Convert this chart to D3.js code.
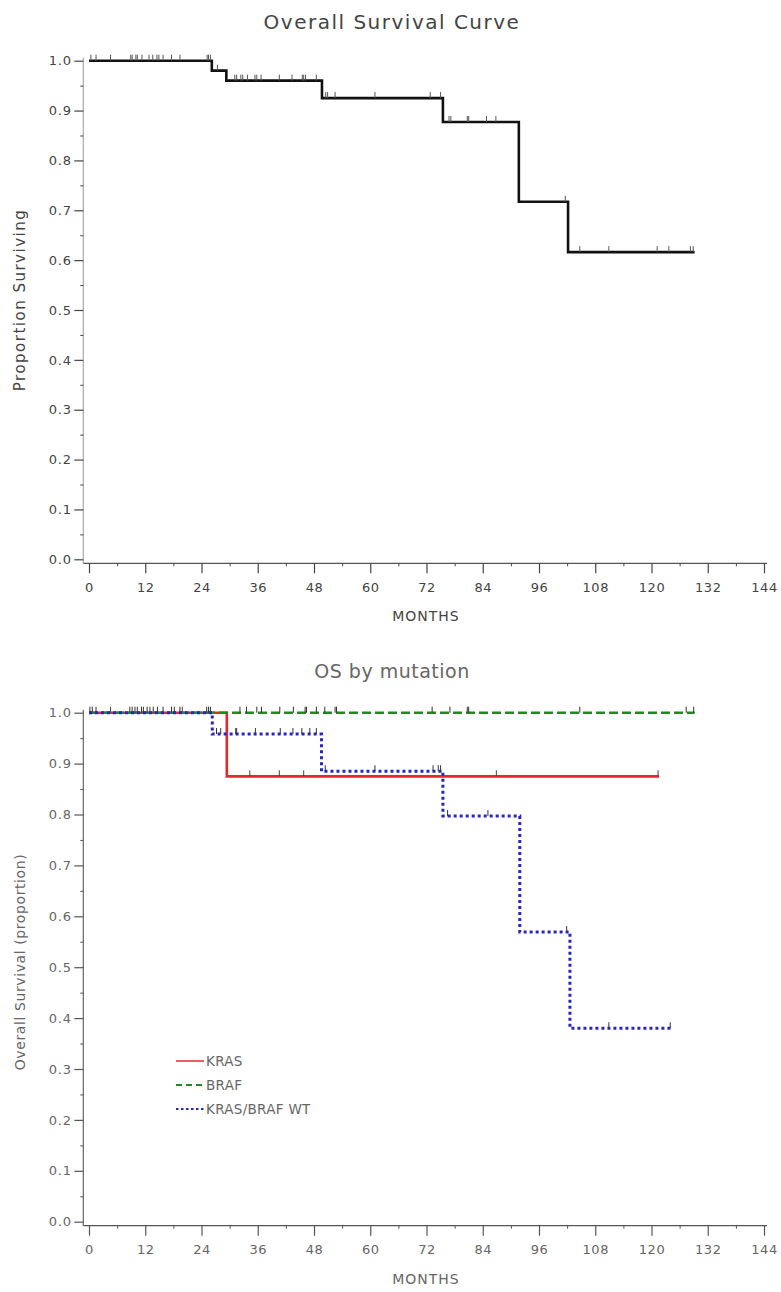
<!DOCTYPE html>
<html><head><meta charset="utf-8">
<script src="https://cdn.jsdelivr.net/npm/d3@7"></script>
<style>
body{margin:0;background:#fff}
svg{display:block}
text{font-family:"DejaVu Sans","Liberation Sans",sans-serif}
</style>
</head><body>
<svg id="c" width="781" height="1292"></svg>
<script>
// ---------- shared ticks ----------
const monthTicks=[0,12,24,36,48,60,72,84,96,108,120,132,144];
const monthMinor=[6,18,30,42,54,66,78,90,102,114,126,138];
const propTicks=[0,0.1,0.2,0.3,0.4,0.5,0.6,0.7,0.8,0.9,1.0];
const propMinor=[0.05,0.15,0.25,0.35,0.45,0.55,0.65,0.75,0.85,0.95];

// ---------- chart 1: overall ----------
const overallTimes=[0,26.2,29.3,49.7,75.5,91.7,102.2];
const overallSurv=[1.0,0.98,0.96,0.925,0.877,0.717,0.616];
const overallEnd=129.2;
const overallCensor=[0.4,1.5,4.6,8.9,9.2,10.0,10.3,11.3,12.8,13.6,14.5,14.9,15.8,17.6,19.4,25.2,25.5,25.9,
  27.4,31.1,31.5,32.4,32.8,33.8,35.4,35.8,36.7,40.6,43.3,45.5,45.8,46.2,48.5,
  50.5,50.9,52.5,61.0,72.8,75.0,76.8,77.2,80.7,81.0,84.8,86.8,101.6,
  104.7,110.9,121.2,123.7,128.3,128.9];

// ---------- chart 2: by mutation ----------
const groupNames=["KRAS","BRAF","KRAS/BRAF WT"];
const krasTimes=[0,29.4];
const krasSurv=[1.0,0.875];
const krasEnd=121.6;
const krasCensor=[4.6,13.0,19.9,34.3,40.6,45.8,86.9,121.4];
const brafTimes=[0];
const brafSurv=[1.0];
const brafEnd=129.2;
const brafCensor=[0.7,9.8,12.4,18.2,25.5,32.2,33.6,35.8,36.8,40.7,43.6,46.1,46.4,48.5,50.3,52.5,52.8,73.2,77.0,80.7,81.0,104.7,127.4,129.0];
const wtTimes=[0,26.3,49.6,75.5,91.9,102.6];
const wtSurv=[1.0,0.958,0.885,0.797,0.569,0.380];
const wtEnd=124.4;
const wtCensor=[0.2,1.5,8.7,9.2,10.3,11.2,11.6,13.7,14.6,15.8,17.6,19.4,25.1,25.9,
  27.2,28.1,31.3,31.5,35.5,40.8,43.5,45.4,47.1,48.5,
  50.4,61.0,73.4,74.5,75.0,76.5,85.1,101.9,110.9,124.0];

const svg=d3.select("#c");

function survAt(times,surv,t){let s=surv[0];for(let i=0;i<times.length;i++){if(times[i]<=t)s=surv[i];}return s;}
function stepPoints(times,surv,end){const p=times.map((t,i)=>[t,surv[i]]);p.push([end,surv[surv.length-1]]);return p;}

function drawFrame(cfg){
  const g=svg.append("g");
  const x=d3.scaleLinear().domain([0,144]).range([89,764]);
  const y=d3.scaleLinear().domain([0,1]).range([cfg.y0,cfg.y1]);
  const axisY=cfg.y0+4, axisX=83.3;
  // axis lines
  g.append("line").attr("x1",axisX).attr("x2",axisX).attr("y1",axisY).attr("y2",cfg.y1-3)
    .attr("stroke",cfg.yAxisColor).attr("stroke-width",1.2);
  g.append("line").attr("x1",axisX).attr("x2",767).attr("y1",axisY).attr("y2",axisY)
    .attr("stroke",cfg.xAxisColor).attr("stroke-width",1.2);
  // y axis
  const ya=g.append("g").attr("transform",`translate(${axisX},0)`)
    .call(d3.axisLeft(y).tickValues(propTicks).tickFormat(d3.format(".1f")).tickSize(9).tickPadding(2.5));
  ya.select(".domain").remove();
  ya.selectAll("line").attr("stroke",cfg.tickColor).attr("stroke-width",1.2);
  ya.selectAll("text").attr("fill",cfg.textColor).attr("font-size",13).style("letter-spacing","0.8px");
  const ym=g.append("g").attr("transform",`translate(${axisX},0)`)
    .call(d3.axisLeft(y).tickValues(propMinor).tickFormat("").tickSize(3));
  ym.select(".domain").remove();
  ym.selectAll("line").attr("stroke",cfg.tickColor);
  // x axis
  const xa=g.append("g").attr("transform",`translate(0,${axisY})`)
    .call(d3.axisBottom(x).tickValues(monthTicks).tickFormat(d3.format("d")).tickSize(10).tickPadding(9));
  xa.select(".domain").remove();
  xa.selectAll("line").attr("stroke",cfg.tickColor).attr("stroke-width",1.2);
  xa.selectAll("text").attr("fill",cfg.textColor).attr("font-size",13).style("letter-spacing","0.5px");
  const xm=g.append("g").attr("transform",`translate(0,${axisY})`)
    .call(d3.axisBottom(x).tickValues(monthMinor).tickFormat("").tickSize(3));
  xm.select(".domain").remove();
  xm.selectAll("line").attr("stroke",cfg.tickColor);
  // titles
  g.append("text").attr("x",392).attr("y",cfg.titleY).attr("text-anchor","middle")
    .attr("font-size",cfg.titleSize).attr("fill",cfg.textColor).style("letter-spacing",cfg.titleSpacing)
    .text(cfg.title);
  g.append("text").attr("x",426).attr("y",axisY+58).attr("text-anchor","middle")
    .attr("font-size",14).attr("fill",cfg.textColor).style("letter-spacing","1px").text("MONTHS");
  g.append("text").attr("transform",`translate(25,${cfg.ylabCenter}) rotate(-90)`).attr("text-anchor","middle")
    .attr("font-size",cfg.ylabSize).attr("fill",cfg.textColor).style("letter-spacing",cfg.ylabSpacing)
    .text(cfg.ylab);
  return {g,x,y};
}

function drawCurve(ch,times,surv,end,censor,style){
  const line=d3.line().x(d=>ch.x(d[0])).y(d=>ch.y(d[1])).curve(d3.curveStepAfter);
  ch.g.append("path").datum(stepPoints(times,surv,end)).attr("d",line)
    .attr("fill","none").attr("stroke",style.color).attr("stroke-width",style.width)
    .attr("stroke-dasharray",style.dash||null);
  ch.g.append("g").selectAll("line").data(censor).join("line")
    .attr("x1",d=>ch.x(d)).attr("x2",d=>ch.x(d))
    .attr("y1",d=>ch.y(survAt(times,surv,d))).attr("y2",d=>ch.y(survAt(times,surv,d))-6)
    .attr("stroke",style.tick).attr("stroke-width",1);
}

// chart 1
const c1=drawFrame({y0:559.3,y1:60.7,title:"Overall Survival Curve",titleY:29,titleSize:20,titleSpacing:"1.5px",
  ylab:"Proportion Surviving",ylabCenter:300,ylabSize:15,ylabSpacing:"1.5px",
  textColor:"#444",tickColor:"#444",xAxisColor:"#555",yAxisColor:"#aaa"});
drawCurve(c1,overallTimes,overallSurv,overallEnd,overallCensor,{color:"#111",width:2.6,tick:"#555"});

// chart 2
const c2=drawFrame({y0:1221.7,y1:712.7,title:"OS by mutation",titleY:678,titleSize:19,titleSpacing:"0.5px",
  ylab:"Overall Survival (proportion)",ylabCenter:962,ylabSize:14,ylabSpacing:"0.6px",
  textColor:"#666",tickColor:"#555",xAxisColor:"#555",yAxisColor:"#666"});
const styles=[
  {color:"#e8262e",width:2.6,tick:"#444"},
  {color:"#1f8a22",width:2.4,dash:"9,4",tick:"#333"},
  {color:"#2626c0",width:3,dash:"3,3",tick:"#333"}
];
drawCurve(c2,krasTimes,krasSurv,krasEnd,krasCensor,styles[0]);
drawCurve(c2,brafTimes,brafSurv,brafEnd,brafCensor,styles[1]);
drawCurve(c2,wtTimes,wtSurv,wtEnd,wtCensor,styles[2]);

// legend
const legY=[1061,1085,1109];
const leg=c2.g.append("g").selectAll("g").data(groupNames).join("g")
  .attr("transform",(d,i)=>`translate(0,${legY[i]})`);
leg.append("line").attr("x1",176).attr("x2",204).attr("y1",0).attr("y2",0)
  .attr("stroke",(d,i)=>styles[i].color).attr("stroke-width",(d,i)=>i===0?1.5:2.2)
  .attr("stroke-dasharray",(d,i)=>i===0?null:(i===1?"6,4":"2.5,2.5"));
leg.append("text").attr("x",206).attr("y",0).attr("dy","0.35em").attr("font-size",13.5)
  .attr("fill","#666").style("letter-spacing","0.3px").text(d=>d);
</script>
</body></html>
